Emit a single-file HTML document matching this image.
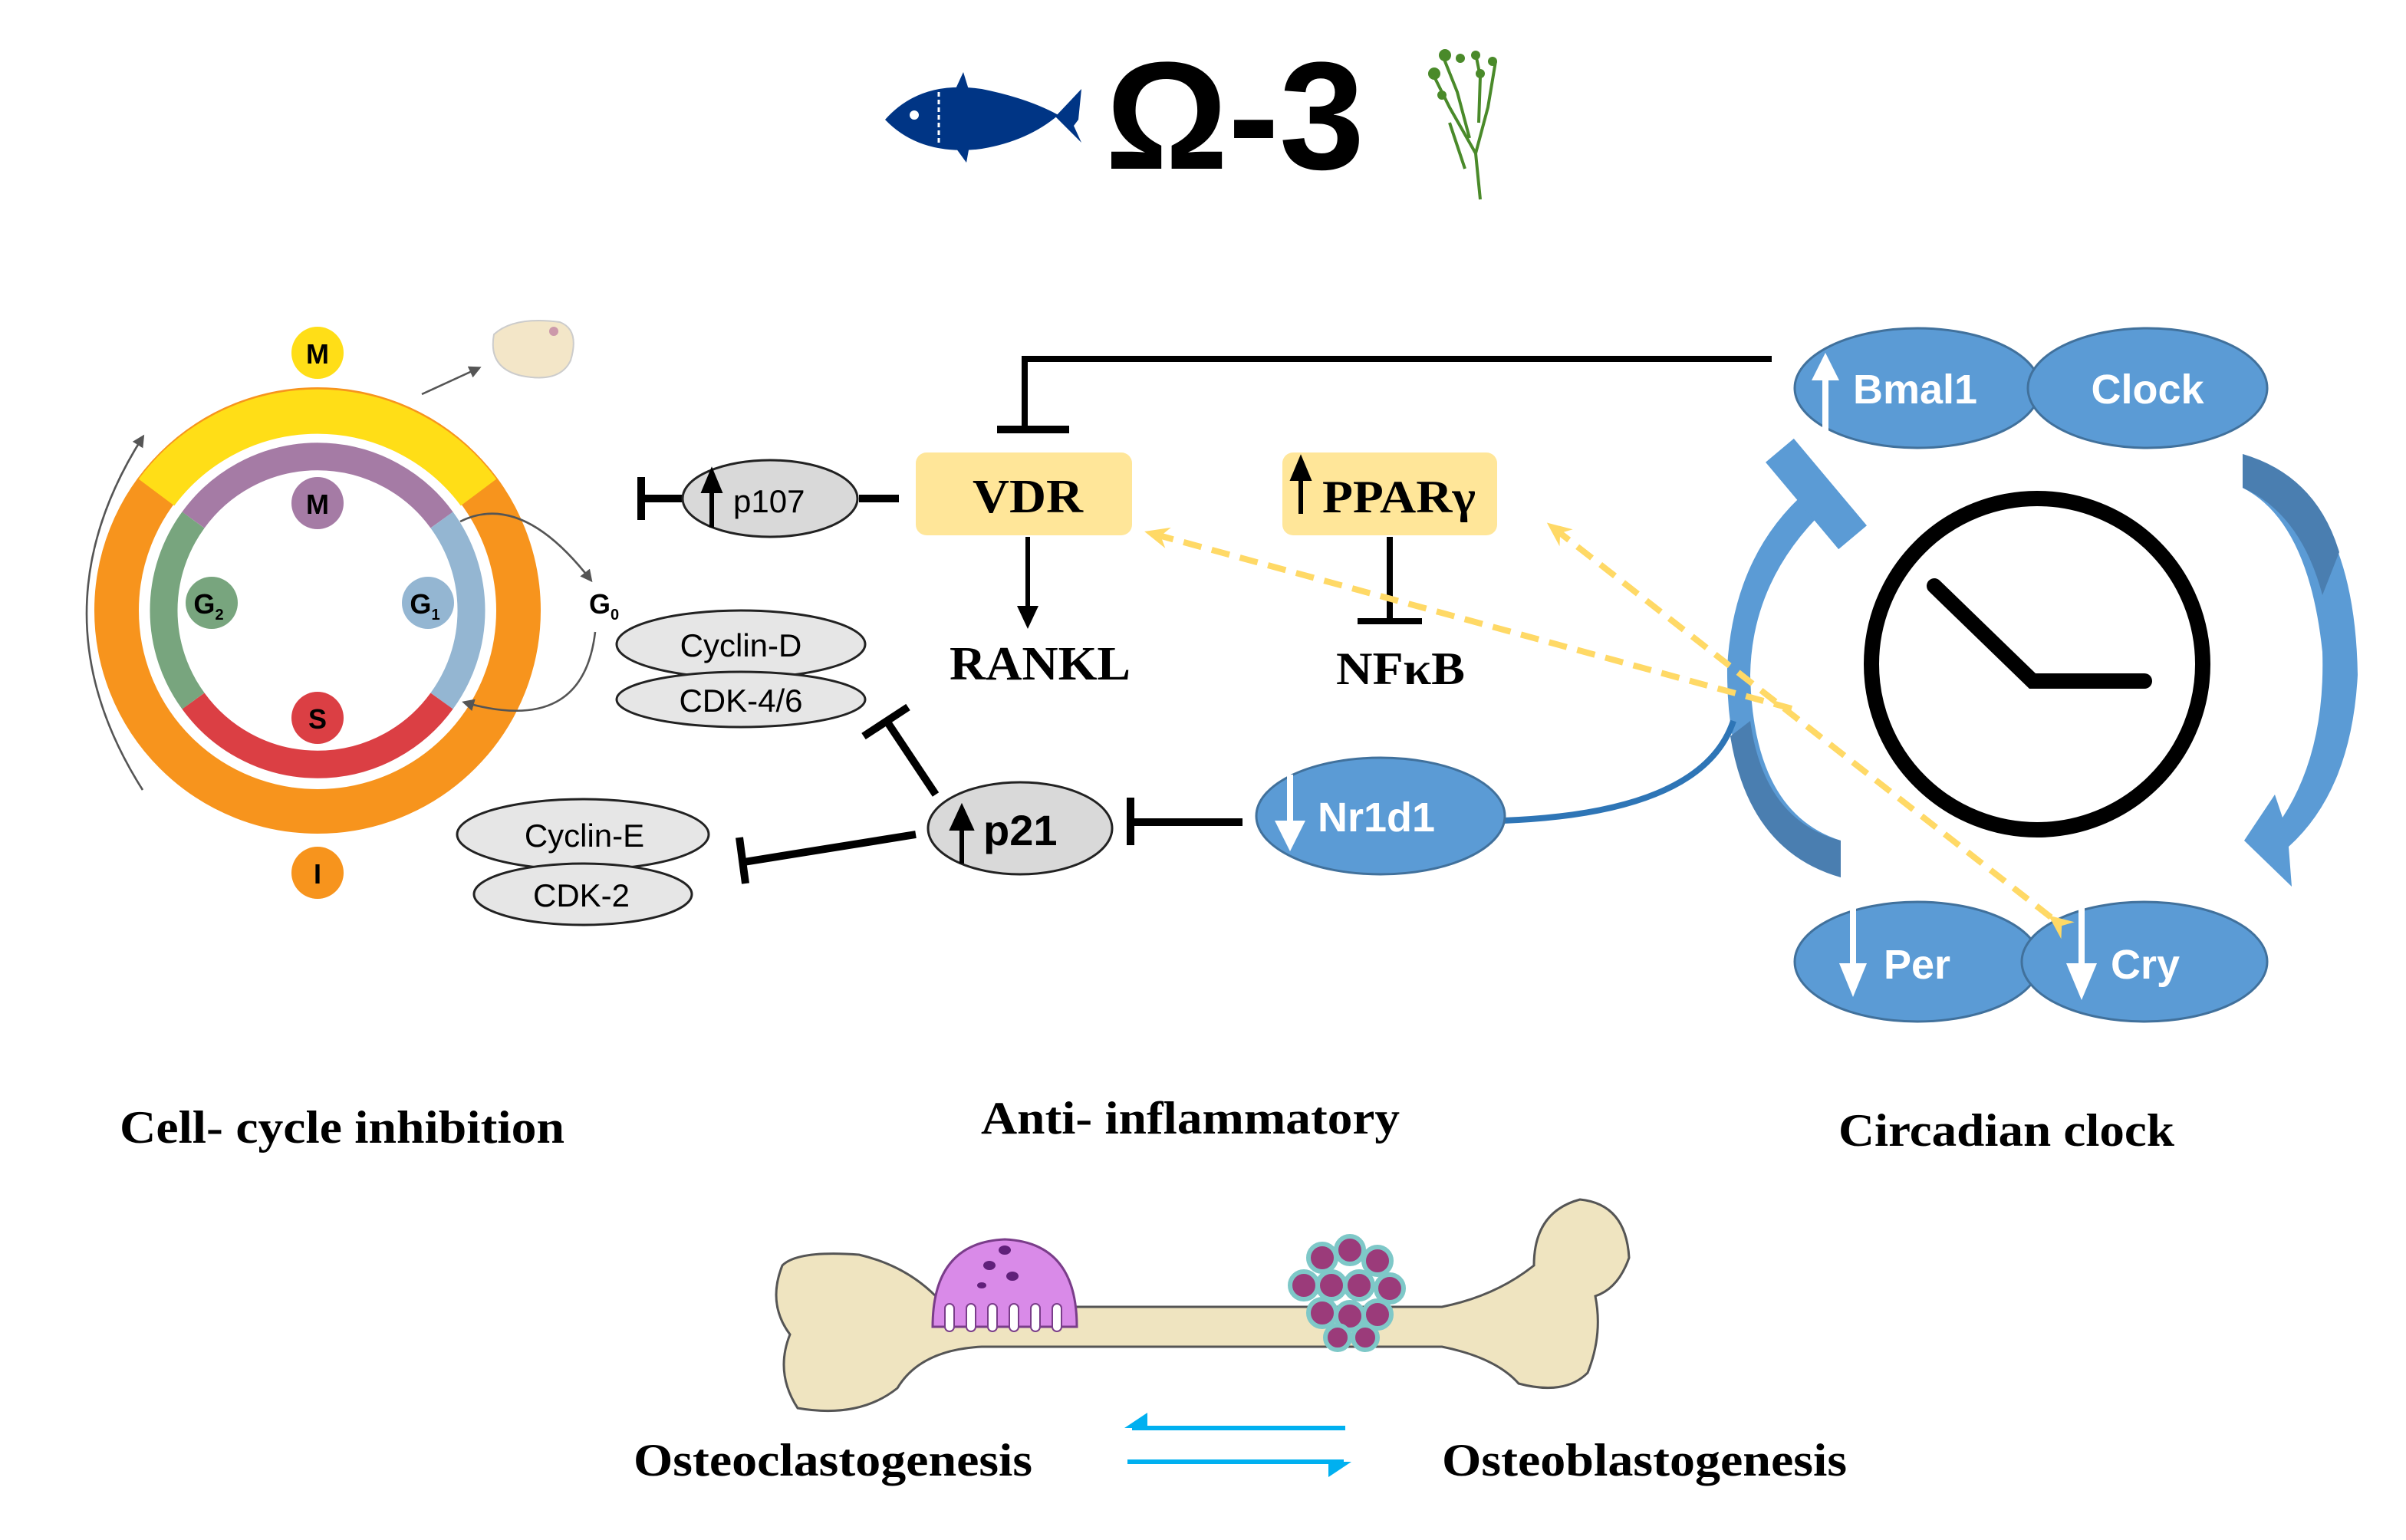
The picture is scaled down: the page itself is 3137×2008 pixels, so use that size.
<!DOCTYPE html>
<html><head><meta charset="utf-8"><style>
html,body{margin:0;padding:0;background:#fff;}
svg{display:block;}
.sv{font-family:"Liberation Serif",serif;font-weight:bold;}
.ss{font-family:"Liberation Sans",sans-serif;}
</style></head><body>
<svg width="3137" height="2008" viewBox="0 0 1568.5 1004" xmlns="http://www.w3.org/2000/svg">
<defs>
<marker id="ah" markerWidth="8" markerHeight="8" refX="6" refY="4" orient="auto" markerUnits="userSpaceOnUse"><path d="M0,0 L8,4 L0,8 z" fill="#555"/></marker>
<marker id="ay" markerWidth="18" markerHeight="18" refX="14" refY="9" orient="auto" markerUnits="userSpaceOnUse"><path d="M0,2 L16,9 L0,16 L5,9 z" fill="#ffd966"/></marker>
</defs>
<!-- Title -->
<g fill="#003585">
<path d="M577,78 Q600,52 640,58 Q670,64 690,75 Q670,92 640,97 Q600,102 577,78 z"/>
<path d="M622,60 L628,47 L632,60 z M622,95 L630,106 L632,95 z"/>
<path d="M688,76 L705,58 L703,78 L700,82 L705,93 z"/>
</g>
<circle cx="596" cy="75" r="3" fill="#fff"/>
<line x1="612" y1="60" x2="612" y2="95" stroke="#fff" stroke-width="1.5" stroke-dasharray="3,2"/>
<text x="805" y="110" text-anchor="middle" class="ss" font-weight="bold" font-size="100">Ω-3</text>
<g stroke="#4a8a2a" stroke-width="2" fill="none">
<path d="M965,130 L962,100 L945,70 L935,50 M962,100 L970,70 L975,40 M958,90 L950,60 L940,35 M964,80 L965,50 L962,35 M955,110 L945,80"/>
</g>
<g fill="#4a8a2a"><circle cx="935" cy="48" r="4"/><circle cx="942" cy="36" r="4"/><circle cx="952" cy="38" r="3"/><circle cx="962" cy="36" r="3"/><circle cx="973" cy="40" r="3"/><circle cx="965" cy="48" r="3"/><circle cx="940" cy="62" r="3"/></g>

<!-- Cell cycle -->
<circle cx="207" cy="398" r="131" fill="none" stroke="#f7941d" stroke-width="29"/>
<path d="M102,321 A131,131 0 0 1 312,321" fill="none" stroke="#ffde17" stroke-width="29"/>
<g fill="none" stroke-width="18">
<path d="M126,339 A100,100 0 0 1 288,339" stroke="#a57ba5"/>
<path d="M288,339 A100,100 0 0 1 288,457" stroke="#94b6d2"/>
<path d="M288,457 A100,100 0 0 1 126,457" stroke="#db3f44"/>
<path d="M126,457 A100,100 0 0 1 126,339" stroke="#78a57e"/>
</g>
<circle cx="207" cy="230" r="17" fill="#ffde17"/><text x="207" y="237" text-anchor="middle" class="ss" font-weight="bold" font-size="18">M</text>
<circle cx="207" cy="569" r="17" fill="#f7941d"/><text x="207" y="576" text-anchor="middle" class="ss" font-weight="bold" font-size="18">I</text>
<circle cx="207" cy="328" r="17" fill="#a57ba5"/><text x="207" y="335" text-anchor="middle" class="ss" font-weight="bold" font-size="18">M</text>
<circle cx="138" cy="393" r="17" fill="#78a57e"/><text x="136" y="400" text-anchor="middle" class="ss" font-weight="bold" font-size="18">G<tspan font-size="10" dy="4">2</tspan></text>
<circle cx="279" cy="393" r="17" fill="#94b6d2"/><text x="277" y="400" text-anchor="middle" class="ss" font-weight="bold" font-size="18">G<tspan font-size="10" dy="4">1</tspan></text>
<circle cx="207" cy="468" r="17" fill="#db3f44"/><text x="207" y="475" text-anchor="middle" class="ss" font-weight="bold" font-size="18">S</text>
<text x="384" y="400" class="ss" font-weight="bold" font-size="18">G<tspan font-size="10" dy="4">0</tspan></text>
<g fill="none" stroke="#555" stroke-width="1.3" marker-end="url(#ah)">
<path d="M300,340 Q340,320 385,378"/>
<path d="M388,412 Q380,480 303,458"/>
<path d="M93,515 Q20,400 93,285"/>
<path d="M275,257 L312,240"/>
</g>
<path d="M322,218 Q335,206 365,210 Q378,215 372,235 Q365,250 340,245 Q318,240 322,218 z" fill="#f3e6c8" stroke="#ccc"/>
<circle cx="361" cy="216" r="3" fill="#c9a"/>

<!-- p107 -->
<g stroke="#000" stroke-width="5"><line x1="418" y1="325" x2="445" y2="325"/><line x1="418" y1="311" x2="418" y2="339"/><line x1="560" y1="325" x2="586" y2="325"/></g>
<ellipse cx="502" cy="325" rx="57" ry="25" fill="#d9d9d9" stroke="#222" stroke-width="1.5"/>
<path d="M464,344 L464,318 M459,320 L464,308 L469,320z" stroke="#000" stroke-width="3" fill="#000"/>
<text x="478" y="334" class="ss" font-size="21">p107</text>

<!-- VDR -->
<rect x="597" y="295" width="141" height="54" rx="7" fill="#ffe699"/>
<text x="670" y="334" text-anchor="middle" class="sv" font-size="31" textLength="72" lengthAdjust="spacingAndGlyphs">VDR</text>
<line x1="670" y1="350" x2="670" y2="398" stroke="#000" stroke-width="3"/><path d="M663,395 L670,410 L677,395z"/>
<text x="678" y="443" text-anchor="middle" class="sv" font-size="31" textLength="118" lengthAdjust="spacingAndGlyphs">RANKL</text>
<g stroke="#000" stroke-width="4" fill="none"><path d="M1155,234 L668,234 L668,280"/><line x1="650" y1="280" x2="697" y2="280" stroke-width="5"/></g>

<!-- PPAR -->
<rect x="836" y="295" width="140" height="54" rx="7" fill="#ffe699"/>
<text x="862" y="334" class="sv" font-size="30" textLength="100" lengthAdjust="spacingAndGlyphs">PPARγ</text>
<path d="M848,335 L848,308 M843,312 L848,300 L853,312z" stroke="#000" stroke-width="3" fill="#000"/>
<g stroke="#000" stroke-width="4"><line x1="906" y1="350" x2="906" y2="405"/><line x1="885" y1="405" x2="927" y2="405"/></g>
<text x="913" y="446" text-anchor="middle" class="sv" font-size="30" textLength="84" lengthAdjust="spacingAndGlyphs">NFκB</text>

<!-- Cyclins -->
<ellipse cx="483" cy="420" rx="81" ry="22" fill="#e6e6e6" stroke="#222" stroke-width="1.5"/>
<ellipse cx="483" cy="456" rx="81" ry="18" fill="#e6e6e6" stroke="#222" stroke-width="1.5"/>
<text x="483" y="428" text-anchor="middle" class="ss" font-size="21">Cyclin-D</text>
<text x="483" y="464" text-anchor="middle" class="ss" font-size="21">CDK-4/6</text>
<ellipse cx="380" cy="544" rx="82" ry="23" fill="#e6e6e6" stroke="#222" stroke-width="1.5"/>
<ellipse cx="380" cy="583" rx="71" ry="20" fill="#e6e6e6" stroke="#222" stroke-width="1.5"/>
<text x="381" y="552" text-anchor="middle" class="ss" font-size="21">Cyclin-E</text>
<text x="379" y="591" text-anchor="middle" class="ss" font-size="21">CDK-2</text>

<!-- p21 -->
<g stroke="#000" stroke-width="5" fill="none">
<line x1="610" y1="518" x2="578" y2="470"/><line x1="563" y1="480" x2="592" y2="461"/>
<line x1="597" y1="544" x2="485" y2="562"/><line x1="482" y1="546" x2="486" y2="576"/>
<line x1="810" y1="536" x2="737" y2="536"/><line x1="737" y1="520" x2="737" y2="551"/>
</g>
<ellipse cx="665" cy="540" rx="60" ry="30" fill="#d9d9d9" stroke="#222" stroke-width="1.5"/>
<path d="M627,563 L627,537 M621,540 L627,527 L633,540z" stroke="#000" stroke-width="3" fill="#000"/>
<text x="641" y="551" class="ss" font-weight="bold" font-size="28">p21</text>

<!-- Circadian -->
<path d="M1200,572 Q1125,545 1126,435 Q1130,362 1178,320 L1190,332 Q1142,378 1141,440 Q1143,530 1200,548 Z" fill="#5b9bd5"/>
<path d="M1200,572 Q1140,555 1128,480 L1141,470 Q1150,535 1200,548 Z" fill="#4a7eb0"/>
<rect x="1172" y="285" width="24" height="74" fill="#5b9bd5" transform="rotate(-40 1184 322)"/>
<path d="M1462,296 Q1535,320 1537,440 Q1533,515 1492,552 L1494,578 L1463,548 L1483,518 L1488,533 Q1516,490 1514,425 Q1505,340 1462,318z" fill="#5b9bd5"/>
<path d="M1462,296 Q1510,310 1525,360 L1514,388 Q1500,335 1462,318z" fill="#4a7eb0"/>
<path d="M980,535 Q1110,530 1130,470" fill="none" stroke="#2e75b6" stroke-width="4"/>
<circle cx="1328" cy="433" r="108" fill="none" stroke="#000" stroke-width="10"/>
<path d="M1261,382 L1325,444 L1398,444" fill="none" stroke="#000" stroke-width="10" stroke-linecap="round"/>
<g fill="#5b9bd5" stroke="#41719c" stroke-width="1.5">
<ellipse cx="1250" cy="253" rx="80" ry="39"/><ellipse cx="1400" cy="253" rx="78" ry="39"/>
<ellipse cx="1250" cy="627" rx="80" ry="39"/><ellipse cx="1398" cy="627" rx="80" ry="39"/>
<ellipse cx="900" cy="532" rx="81" ry="38"/>
</g>
<g fill="#fff">
<path d="M1188,283 L1188,248 L1181,248 L1190,230 L1199,248 L1192,248 L1192,283z"/>
<path d="M1206,590 L1206,628 L1199,628 L1208,650 L1217,628 L1210,628 L1210,590z"/>
<path d="M1355,590 L1355,628 L1347,628 L1357,652 L1367,628 L1359,628 L1359,590z"/>
<path d="M839,505 L839,535 L831,535 L841,555 L851,535 L843,535 L843,505z"/>
</g>
<g class="ss" font-weight="bold" font-size="27" fill="#fff">
<text x="1208" y="263">Bmal1</text><text x="1400" y="263" text-anchor="middle">Clock</text>
<text x="1228" y="638">Per</text><text x="1376" y="638">Cry</text>
<text x="859" y="542">Nr1d1</text>
</g>
<g stroke="#ffd966" stroke-width="4" stroke-dasharray="12,7" fill="none">
<line x1="1168" y1="462" x2="748" y2="347" marker-end="url(#ay)"/>
<line x1="1337" y1="598" x2="1010" y2="342" marker-end="url(#ay)" marker-start="url(#ay)"/>
</g>

<!-- section labels -->
<g class="sv" font-size="30">
<text x="223" y="745" text-anchor="middle" textLength="290" lengthAdjust="spacingAndGlyphs">Cell- cycle inhibition</text>
<text x="776" y="739" text-anchor="middle" textLength="273" lengthAdjust="spacingAndGlyphs">Anti- inflammatory</text>
<text x="1308" y="747" text-anchor="middle" textLength="219" lengthAdjust="spacingAndGlyphs">Circadian clock</text>
<text x="543" y="962" text-anchor="middle" textLength="260" lengthAdjust="spacingAndGlyphs">Osteoclastogenesis</text>
<text x="1072" y="962" text-anchor="middle" textLength="264" lengthAdjust="spacingAndGlyphs">Osteoblastogenesis</text>
</g>

<!-- bone -->
<path d="M510,825 Q520,815 560,818 Q590,825 610,845 L640,852 L940,852 Q975,845 1000,825 Q1000,790 1030,782 Q1060,785 1062,820 Q1055,840 1040,845 Q1045,870 1035,895 Q1020,910 990,902 Q975,885 940,878 L640,878 Q600,880 585,905 Q560,925 520,918 Q505,895 515,870 Q500,850 510,825z" fill="#efe4c0" stroke="#555" stroke-width="1.5"/>
<path d="M608,865 Q608,810 655,808 Q702,810 702,865z" fill="#d98ae8" stroke="#7a3d8a" stroke-width="1.5"/>
<g fill="#fff" stroke="#7a3d8a" stroke-width="1"><rect x="616" y="850" width="6" height="18" rx="3"/><rect x="630" y="850" width="6" height="18" rx="3"/><rect x="644" y="850" width="6" height="18" rx="3"/><rect x="658" y="850" width="6" height="18" rx="3"/><rect x="672" y="850" width="6" height="18" rx="3"/><rect x="686" y="850" width="6" height="18" rx="3"/></g>
<g fill="#60207a"><ellipse cx="645" cy="825" rx="4" ry="3"/><ellipse cx="660" cy="832" rx="4" ry="3"/><ellipse cx="655" cy="815" rx="4" ry="3"/><ellipse cx="640" cy="838" rx="3" ry="2"/></g>
<g fill="#9b3b7a" stroke="#7ec8c8" stroke-width="3">
<circle cx="862" cy="820" r="9"/><circle cx="880" cy="815" r="9"/><circle cx="898" cy="822" r="9"/><circle cx="850" cy="838" r="9"/><circle cx="868" cy="838" r="9"/><circle cx="886" cy="838" r="9"/><circle cx="906" cy="840" r="9"/><circle cx="862" cy="856" r="9"/><circle cx="880" cy="858" r="9"/><circle cx="898" cy="857" r="9"/><circle cx="872" cy="872" r="8"/><circle cx="890" cy="872" r="8"/>
</g>
<!-- arrows -->
<g stroke="#00b0f0" stroke-width="3" fill="none">
<line x1="877" y1="931" x2="738" y2="931"/>
<line x1="735" y1="953" x2="876" y2="953"/>
</g>
<path d="M733,931 L748,921 L748,931z" fill="#00b0f0"/>
<path d="M881,953 L866,963 L866,953z" fill="#00b0f0"/>
</svg>
</body></html>
